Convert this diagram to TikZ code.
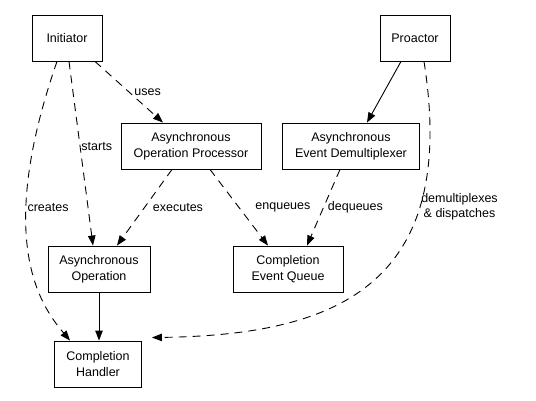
\documentclass[tikz,border=0pt]{standalone}
\usepackage{fontspec}
\setmainfont{Liberation Sans}
\usetikzlibrary{arrows.meta}

\begin{document}
\begin{tikzpicture}[x=1pt, y=-1pt, line width=0.9pt,
		box/.style = {shape=rectangle, draw, align=center,
			minimum height=46pt, inner sep=2pt,
			font=\fontsize{12.5}{16}\selectfont},
		flow/.style = {-{Triangle[length=10pt,width=7.5pt]}},
		uses/.style = {flow, dash pattern=on 8pt off 6pt},
		lbl/.style = {font=\fontsize{12.5}{15}\selectfont, inner sep=1pt}]

	\useasboundingbox (0,0) rectangle (536,401);

	\node[box, minimum width=70pt] (initiator) at (67,38) {Initiator};
	\node[box, minimum width=70pt] (proactor) at (415,38) {Proactor};
	\node[box, minimum width=140pt] (processor) at (191,146) {Asynchronous\\Operation Processor};
	\node[box, minimum width=137pt] (demux) at (351,146) {Asynchronous\\Event Demultiplexer};
	\node[box, minimum width=102pt] (operation) at (99,269) {Asynchronous\\Operation};
	\node[box, minimum width=110pt] (queue) at (288,269) {Completion\\Event Queue};
	\node[box, minimum width=87pt] (handler) at (98,364) {Completion\\Handler};

	% initiator
	\draw[uses] ([xshift=28pt]initiator.south) -- node[lbl, anchor=west, xshift=4pt] {uses} ([xshift=-28pt]processor.north);
	\draw[uses] ([xshift=2pt]initiator.south) -- node[lbl, pos=0.46, anchor=west] {starts} ([xshift=-6pt]operation.north);
	\draw[uses] ([xshift=-10pt]initiator.south) .. controls (-5,240) and (40,305) .. node[lbl, pos=0.34, anchor=west] {creates} ([xshift=-28pt]handler.north);

	% processor and demultiplexer
	\draw[uses] ([xshift=-19pt]processor.south) -- node[lbl, anchor=west, xshift=7pt] {executes} ([xshift=18pt]operation.north);
	\draw[uses] ([xshift=19pt]processor.south) -- node[lbl, anchor=west, xshift=15pt] {enqueues} ([xshift=-20pt]queue.north);
	\draw[uses] ([xshift=-11pt]demux.south) -- node[lbl, anchor=west, xshift=3pt] {dequeues} ([xshift=19pt]queue.north);

	% proactor
	\draw[flow] ([xshift=-14pt]proactor.south) -- ([xshift=16pt]demux.north);
	\draw[uses] ([xshift=9pt]proactor.south) .. controls (460,290) and (330,335) .. node[lbl, pos=0.265, anchor=west, align=center] {demultiplexes\\\& dispatches} ([shift={(10,-3)}]handler.north east);

	\draw[flow] (operation.south) -- (operation.south |- handler.north);
\end{tikzpicture}
\end{document}
